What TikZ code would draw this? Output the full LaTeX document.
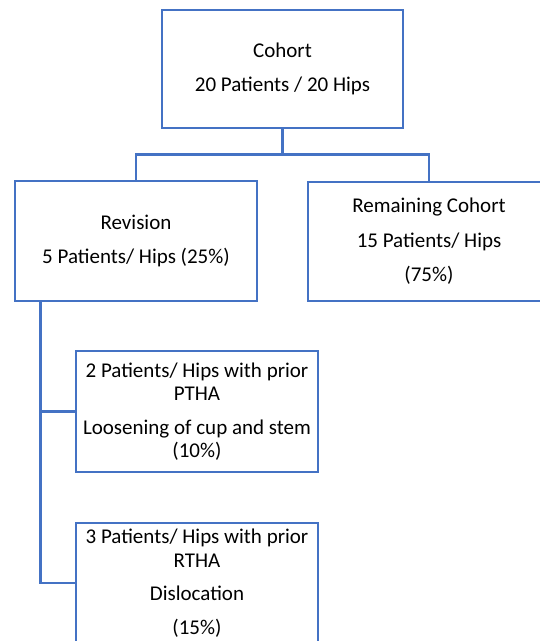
\documentclass[tikz,border=0pt]{standalone}
\usepackage{fontspec}
\setmainfont{Carlito}
\definecolor{obl}{RGB}{68,114,196}
\begin{document}
\begin{tikzpicture}[x=1pt,y=-1pt,
  box/.style={draw=obl,line width=2.5pt,fill=white,minimum width=242pt,minimum height=120pt,
    inner sep=0pt,align=center,font=\fontsize{21}{23.5}\selectfont,anchor=center},
  conn/.style={draw=obl,line width=2.5pt}]
\useasboundingbox (0,0) rectangle (540,641);
\clip (0,0) rectangle (540,641);
\node[box,minimum width=241pt,minimum height=118pt] (cohort) at (282.5,69) {Cohort\\[10pt]20 Patients / 20 Hips};
\node[box] (rev) at (136,241) {Revision\\[11pt]5 Patients/ Hips (25\%)};
\node[box,minimum height=119pt] (rem) at (429,241.5) {Remaining Cohort\\[11pt]15 Patients/ Hips\\[11pt](75\%)};
\node[box,minimum height=121pt] (b1) at (197,411.5) {2 Patients/ Hips with prior\\PTHA\\[10pt]Loosening of cup and stem\\(10\%)};
\node[box] (b2) at (197,583) {3 Patients/ Hips with prior\\RTHA\\[10pt]Dislocation\\[10pt](15\%)};
\coordinate (rv) at (40.7,301);
\draw[conn] (cohort.south) -- ++(0,25) -| (rev.north);
\draw[conn] (cohort.south) -- ++(0,25) -| (rem.north);
\draw[conn] (rv) |- (b1.west);
\draw[conn] (rv) |- (b2.west);
\end{tikzpicture}
\end{document}
